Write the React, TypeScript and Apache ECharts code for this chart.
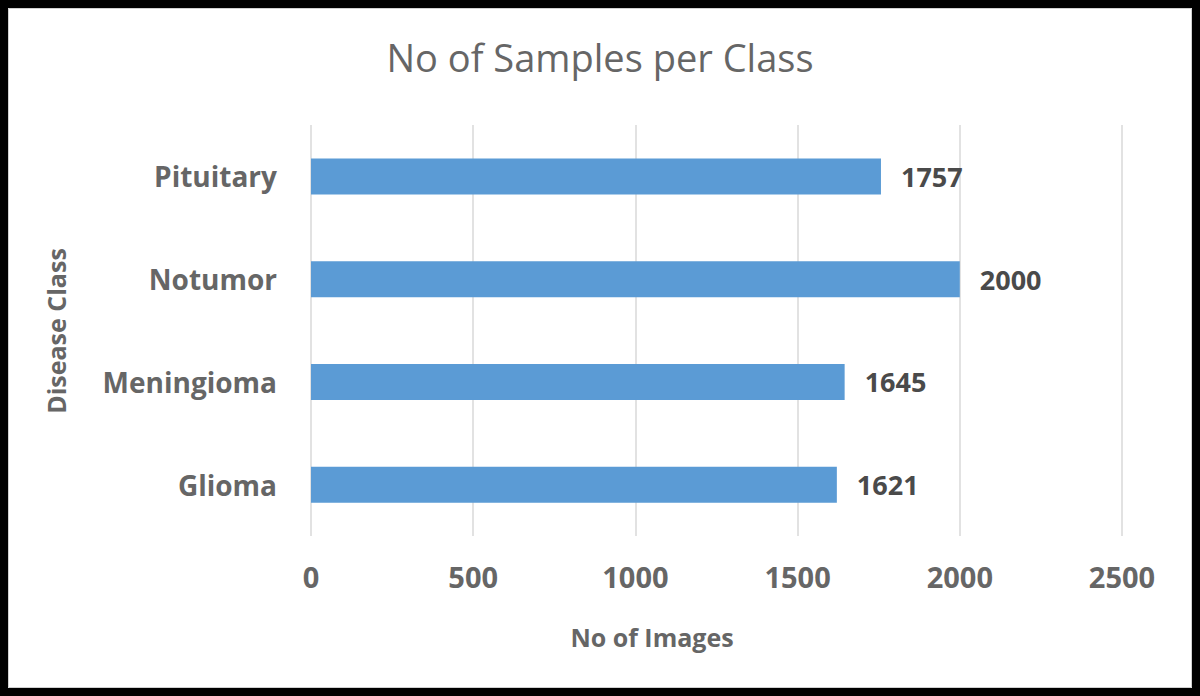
import React, { useEffect, useRef } from "react";
import * as echarts from "echarts";

const categories = ["Glioma", "Meningioma", "Notumor", "Pituitary"];
const sampleCounts = [1621, 1645, 2000, 1757];
const xTicks = [0, 500, 1000, 1500, 2000, 2500];

const FONT = "'Open Sans', 'Noto Sans', sans-serif";

export default function App() {
  const ref = useRef<HTMLDivElement>(null);
  useEffect(() => {
    if (!ref.current) return;
    const chart = echarts.init(ref.current, undefined, { renderer: "svg" });
    chart.setOption({
      animation: false,
      backgroundColor: "#ffffff",
      title: {
        text: "No of Samples per Class",
        left: "center",
        top: 33,
        textStyle: { fontFamily: FONT, fontSize: 38, fontWeight: "normal", color: "#666666" },
      },
      grid: { left: 311, right: 78, top: 125, bottom: 160 },
      xAxis: {
        type: "value",
        min: xTicks[0],
        max: xTicks[xTicks.length - 1],
        interval: 500,
        axisLine: { show: false },
        axisTick: { show: false },
        splitLine: { show: true, lineStyle: { color: "#d9d9d9", width: 1.5 } },
        axisLabel: {
          margin: 26,
          formatter: (v: number) => String(v),
          fontFamily: FONT,
          fontSize: 29,
          fontWeight: "bold",
          color: "#666666",
        },
      },
      yAxis: {
        type: "category",
        data: categories,
        axisLine: { show: false },
        axisTick: { show: false },
        axisLabel: {
          margin: 34,
          fontFamily: FONT,
          fontSize: 28,
          fontWeight: "bold",
          color: "#666666",
        },
      },
      series: [
        {
          type: "bar",
          data: sampleCounts,
          barWidth: 36,
          itemStyle: { color: "#5b9bd5" },
          label: {
            show: true,
            position: "right",
            distance: 20,
            fontFamily: FONT,
            fontSize: 27,
            fontWeight: "bold",
            color: "#4a4a4a",
          },
        },
      ],
      graphic: [
        {
          type: "rect",
          shape: { x: 4, y: 4, width: 1192, height: 688 },
          style: { fill: "none", stroke: "#000000", lineWidth: 8 },
          silent: true,
        },
        {
          type: "rect",
          shape: { x: 8.5, y: 8.5, width: 1183, height: 679 },
          style: { fill: "none", stroke: "#d0d0d0", lineWidth: 1 },
          silent: true,
        },
        {
          type: "text",
          x: 652,
          y: 637,
          style: {
            text: "No of Images",
            fontFamily: FONT,
            fontSize: 25,
            fontWeight: "bold",
            fill: "#666666",
            textAlign: "center",
            textVerticalAlign: "middle",
          },
        },
        {
          type: "text",
          x: 56,
          y: 331,
          rotation: Math.PI / 2,
          style: {
            text: "Disease Class",
            fontFamily: FONT,
            fontSize: 25,
            fontWeight: "bold",
            fill: "#666666",
            textAlign: "center",
            textVerticalAlign: "middle",
          },
        },
      ],
    });
    return () => chart.dispose();
  }, []);
  return (
    <div
      ref={ref}
      style={{ position: "absolute", left: 0, top: 0, width: 1200, height: 696 }}
    />
  );
}
